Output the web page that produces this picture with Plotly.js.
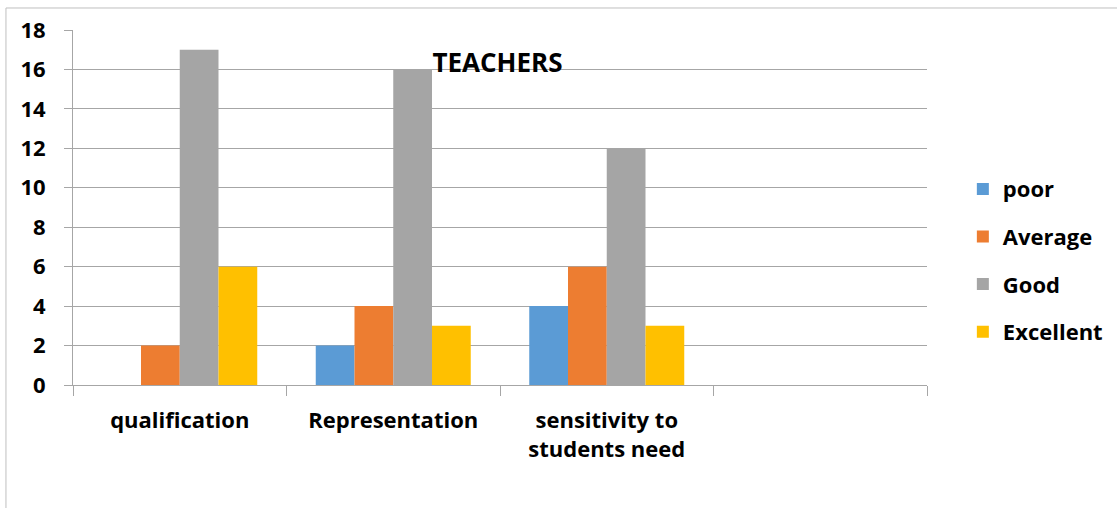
<!DOCTYPE html>
<html>
<head>
<meta charset="utf-8">
<script src="https://cdn.plot.ly/plotly-3.0.1.min.js"></script>
<style>
  html, body { margin: 0; padding: 0; background: #ffffff; }
  #chart { width: 1117px; height: 508px; }
</style>
</head>
<body>
<div id="chart"></div>
<script>
// Survey ratings of teachers, grouped by criterion
const categories = ['qualification', 'Representation', 'sensitivity to<br>students need', ' '];
const seriesNames = ['poor', 'Average', 'Good', 'Excellent'];
const poor = [0, 2, 4, null];
const average = [2, 4, 6, null];
const good = [17, 16, 12, null];
const excellent = [6, 3, 3, null];
const yTicks = [0, 2, 4, 6, 8, 10, 12, 14, 16, 18];

const seriesValues = [poor, average, good, excellent];
const seriesColors = ['#5b9bd5', '#ed7d31', '#a5a5a5', '#ffc000'];

const fontFamily = '"Open Sans", "DejaVu Sans", sans-serif';

const traces = seriesNames.map((name, i) => ({
  type: 'bar',
  name: name,
  x: categories,
  y: seriesValues[i],
  marker: { color: seriesColors[i], line: { width: 0 } },
  legendgroup: name,
  hoverinfo: 'x+y+name'
}));

const layout = {
  width: 1117,
  height: 508,
  paper_bgcolor: '#ffffff',
  plot_bgcolor: '#ffffff',
  margin: { l: 73, r: 190, t: 30, b: 123, autoexpand: false },
  barmode: 'group',
  bargap: 0.274,
  bargroupgap: 0,
  font: { family: fontFamily, color: '#000000' },
  title: {
    text: '<b>TEACHERS</b>',
    font: { family: fontFamily, size: 26, color: '#000000', weight: 'bold' },
    xref: 'paper', x: 0.497, xanchor: 'center',
    yref: 'paper', y: 0.907, yanchor: 'middle'
  },
  xaxis: {
    type: 'category',
    categoryorder: 'array',
    categoryarray: categories,
    range: [-0.5, 3.5],
    tickson: 'boundaries',
    ticks: 'outside',
    ticklen: 10,
    tickcolor: '#a6a6a6',
    tickwidth: 1,
    showgrid: false,
    showline: true,
    linecolor: '#a6a6a6',
    linewidth: 1,
    tickfont: { family: fontFamily, size: 22, color: '#000000', weight: 'bold' },
    ticklabelstandoff: 16,
    zeroline: false
  },
  yaxis: {
    range: [0, 18],
    tickvals: yTicks,
    ticktext: yTicks.map(v => String(v)),
    ticks: 'outside',
    ticklen: 8,
    tickcolor: '#a6a6a6',
    showgrid: true,
    gridcolor: '#a6a6a6',
    gridwidth: 1,
    showline: true,
    linecolor: '#a6a6a6',
    zeroline: false,
    tickfont: { family: fontFamily, size: 22, color: '#000000', weight: 'bold' },
    ticklabelstandoff: 14
  },
  showlegend: true,
  legend: {
    xref: 'container', x: 0.862, xanchor: 'left',
    yref: 'container', y: 0.487, yanchor: 'middle',
    traceorder: 'grouped',
    tracegroupgap: 16,
    font: { family: fontFamily, size: 22, color: '#000000', weight: 'bold' },
    itemwidth: 30,
    bgcolor: 'rgba(0,0,0,0)'
  },
  shapes: [
    {
      type: 'rect', xref: 'paper', yref: 'paper',
      x0: -0.0785, x1: 1.5, y0: -0.6, y1: 1.062,
      line: { color: '#bfbfbf', width: 1 },
      fillcolor: 'rgba(0,0,0,0)', layer: 'below'
    }
  ]
};

Plotly.newPlot('chart', traces, layout, { displayModeBar: false, staticPlot: true });
</script>
</body>
</html>
